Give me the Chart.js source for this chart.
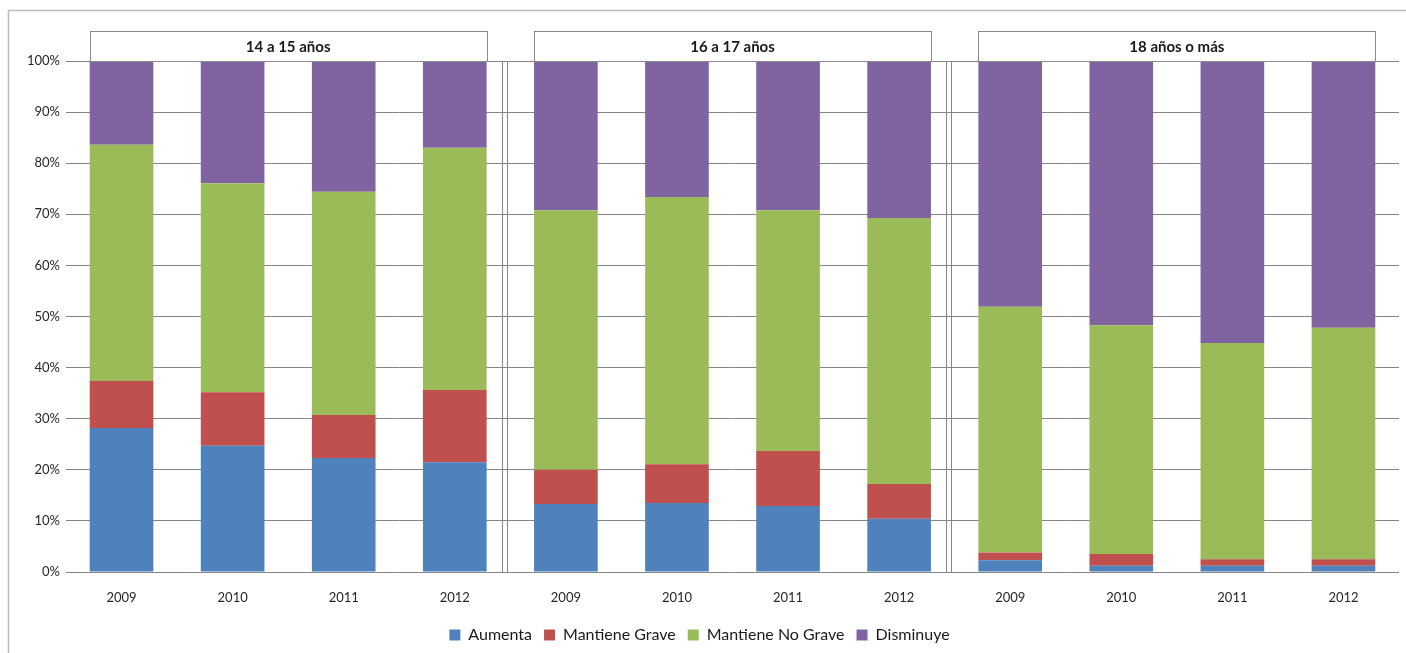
<!DOCTYPE html>
<html>
<head>
<meta charset="utf-8">
<script src="https://cdn.jsdelivr.net/npm/chart.js@4/dist/chart.umd.min.js"></script>
<style>
html,body{margin:0;padding:0;background:#fff;}
#wrap{position:relative;width:1406px;height:653px;}
</style>
</head>
<body>
<div id="wrap"><canvas id="c" width="1406" height="653"></canvas></div>
<script>
// Categories (years repeated for each age group)
const years = ["2009","2010","2011","2012","2009","2010","2011","2012","2009","2010","2011","2012"];
const groupNames = ["14 a 15 años","16 a 17 años","18 años o más"];
const groupSize = 4;

// Series values (%)
const aumenta        = [28.2, 24.7, 22.3, 21.5, 13.3, 13.5, 12.9, 10.4, 2.3, 1.2, 1.2, 1.2];
const mantieneGrave  = [ 9.2, 10.5,  8.4, 14.1,  6.7,  7.6, 10.8,  6.8, 1.5, 2.3, 1.3, 1.3];
const mantieneNoGrave= [46.2, 40.9, 43.7, 47.4, 50.8, 52.3, 47.1, 52.1, 48.1, 44.8, 42.3, 45.3];
const disminuye      = [16.4, 23.9, 25.6, 17.0, 29.2, 26.6, 29.2, 30.7, 48.1, 51.7, 55.2, 52.2];

const seriesNames = ["Aumenta","Mantiene Grave","Mantiene No Grave","Disminuye"];
const seriesColors = ["#4F81BD","#C0504D","#9BBB59","#8064A2"];

const FONT = "Lato, 'Open Sans', sans-serif";

const decorPlugin = {
  id: 'decor',
  beforeDraw(chart) {
    const ctx = chart.ctx;
    ctx.save();
    ctx.fillStyle = '#fff';
    ctx.fillRect(0, 0, chart.width, chart.height);
    ctx.strokeStyle = '#bcbcbc';
    ctx.lineWidth = 1.5;
    ctx.strokeRect(8.5, 10.5, chart.width + 20, chart.height + 20);
    ctx.restore();
  },
  afterDatasetsDraw(chart) {
    const ctx = chart.ctx;
    const x = chart.scales.x;
    const area = chart.chartArea;
    const meta = chart.getDatasetMeta(0);
    ctx.save();
    // double separator lines between groups
    ctx.strokeStyle = '#868686';
    ctx.lineWidth = 1;
    for (let g = 1; g < groupNames.length; g++) {
      const a = x.getPixelForTick(g * groupSize - 1);
      const b = x.getPixelForTick(g * groupSize);
      const mid = (a + b) / 2;
      [mid - 8.5, mid - 3.5].forEach(px => {
        const p = Math.round(px) + 0.5;
        ctx.beginPath();
        ctx.moveTo(p, area.top);
        ctx.lineTo(p, area.bottom);
        ctx.stroke();
      });
    }
    // header boxes
    for (let g = 0; g < groupNames.length; g++) {
      const first = meta.data[g * groupSize];
      const last = meta.data[g * groupSize + groupSize - 1];
      const left = first.x - first.width / 2;
      const right = last.x + last.width / 2;
      const top = area.top - 30;
      ctx.fillStyle = '#fff';
      ctx.fillRect(left, top, right - left, 30);
      ctx.strokeStyle = '#8a8a8a';
      ctx.lineWidth = 1;
      ctx.strokeRect(Math.round(left) + 0.5, Math.round(top) + 0.5, Math.round(right - left), 30);
      ctx.fillStyle = '#1a1a1a';
      ctx.font = "bold 15px " + FONT;
      ctx.textAlign = 'center';
      ctx.textBaseline = 'middle';
      ctx.fillText(groupNames[g], (left + right) / 2, top + 16);
    }
    ctx.restore();
  }
};

const datasetValues = [aumenta, mantieneGrave, mantieneNoGrave, disminuye];

new Chart(document.getElementById('c'), {
  type: 'bar',
  data: {
    labels: years,
    datasets: seriesNames.map((n, i) => ({
      label: n,
      data: datasetValues[i],
      backgroundColor: seriesColors[i],
      borderWidth: 0,
      categoryPercentage: 1.0,
      barPercentage: 0.573
    }))
  },
  options: {
    responsive: false,
    animation: false,
    devicePixelRatio: 1,
    layout: { padding: { top: 61, right: 7, left: 0, bottom: 0 } },
    plugins: {
      legend: {
        position: 'bottom',
        labels: {
          font: { family: FONT, size: 16 },
          color: '#1a1a1a',
          boxWidth: 11,
          boxHeight: 11,
          padding: 12
        }
      },
      tooltip: { enabled: false }
    },
    scales: {
      x: {
        stacked: true,
        grid: { display: false },
        border: { display: false },
        ticks: { font: { family: FONT, size: 13 }, color: '#262626', padding: 10, maxRotation: 0 },
        afterFit(scale) { scale.height = 43; }
      },
      y: {
        stacked: true,
        min: 0,
        max: 100,
        grid: { color: '#868686', drawTicks: false, lineWidth: 1 },
        border: { display: false },
        ticks: {
          stepSize: 10,
          padding: 6,
          font: { family: FONT, size: 13 },
          color: '#262626',
          callback: v => v + '%'
        },
        afterFit(scale) { scale.width = 66; }
      }
    }
  },
  plugins: [decorPlugin]
});
</script>
</body>
</html>
